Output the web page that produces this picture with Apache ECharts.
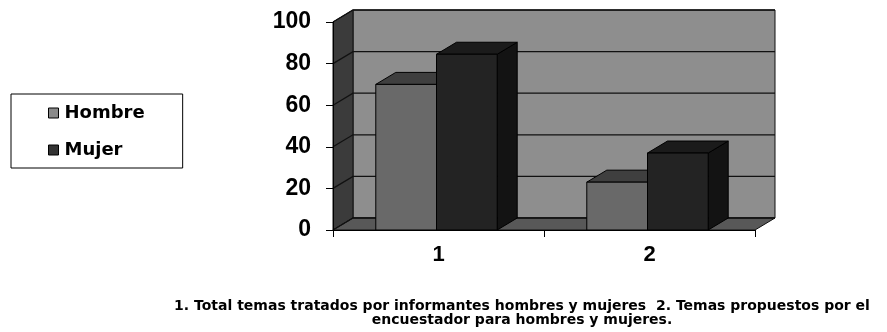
<!DOCTYPE html>
<html>
<head>
<meta charset="utf-8">
<script src="https://cdn.jsdelivr.net/npm/echarts@6/dist/echarts.min.js"></script>
<style>html,body{margin:0;padding:0;background:#fff;}#c{width:887px;height:332px;}</style>
</head>
<body>
<div id="c"></div>
<script>
// ---- data ----
const categories = ['1', '2'];
const seriesNames = ['Hombre', 'Mujer'];
const hombreValues = [70, 23];
const mujerValues = [84.5, 37];
const yTicks = [0, 20, 40, 60, 80, 100];
const caption = '1. Total temas tratados por informantes hombres y mujeres  2. Temas propuestos por el\nencuestador para hombres y mujeres.';

// ---- style ----
const DX = 20, DY = 12;
const BAR_FRAC = 0.2877;
const GROUP_SHIFT = -2;
const colors = {
  back: '#8e8e8e', left: '#3b3b3b', floor: '#585858', line: '#111',
  hombre: { front: '#696969', top: '#3f3f3f', side: '#2e2e2e' },
  mujer: { front: '#232323', top: '#1b1b1b', side: '#131313' }
};

const chart = echarts.init(document.getElementById('c'), null, { renderer: 'canvas' });

function wallsRender(params, api) {
  const cs = params.coordSys;
  const L = cs.x, R = cs.x + cs.width;
  const B = api.coord([0, yTicks[0]])[1];
  const T = api.coord([0, yTicks[yTicks.length - 1]])[1];
  const children = [
    { type: 'polygon', shape: { points: [[L + DX, T - DY], [R + DX, T - DY], [R + DX, B - DY], [L + DX, B - DY]] },
      style: { fill: colors.back, stroke: colors.line, lineWidth: 1 } },
    { type: 'polygon', shape: { points: [[L, B], [L, T], [L + DX, T - DY], [L + DX, B - DY]] },
      style: { fill: colors.left, stroke: colors.line, lineWidth: 1 } },
    { type: 'polygon', shape: { points: [[L, B], [L + DX, B - DY], [R + DX, B - DY], [R, B]] },
      style: { fill: colors.floor, stroke: colors.line, lineWidth: 1 } }
  ];
  yTicks.forEach(function (v) {
    const y = api.coord([0, v])[1];
    children.push({ type: 'polyline', shape: { points: [[L, y], [L + DX, y - DY], [R + DX, y - DY]] },
      style: { fill: null, stroke: colors.line, lineWidth: 1.3 } });
  });
  return { type: 'group', children: children };
}

function barRender(idx, pal) {
  return function (params, api) {
    const cat = api.value(0);
    const val = api.value(1);
    const center = api.coord([cat, 0])[0] + GROUP_SHIFT;
    const base = api.coord([cat, 0])[1];
    const top = api.coord([cat, val])[1];
    const bw = api.size([1, 0])[0] * BAR_FRAC;
    const x0 = idx === 0 ? center - bw : center;
    const x1 = x0 + bw;
    const st = { stroke: '#000', lineWidth: 1, lineJoin: 'round' };
    return {
      type: 'group',
      children: [
        { type: 'polygon', shape: { points: [[x1, top], [x1 + DX, top - DY], [x1 + DX, base - DY], [x1, base]] },
          style: Object.assign({ fill: pal.side }, st) },
        { type: 'polygon', shape: { points: [[x0, top], [x0 + DX, top - DY], [x1 + DX, top - DY], [x1, top]] },
          style: Object.assign({ fill: pal.top }, st) },
        { type: 'rect', shape: { x: x0, y: top, width: bw, height: base - top },
          style: Object.assign({ fill: pal.front }, st) }
      ]
    };
  };
}

const option = {
  backgroundColor: '#fff',
  animation: false,
  grid: { left: 333, right: 132, top: 22, bottom: 102, containLabel: false },
  title: {
    text: caption,
    left: 522, top: 299, padding: 0,
    textAlign: 'center',
    textStyle: { fontFamily: 'DejaVu Sans, sans-serif', fontWeight: 'bold', fontSize: 14, lineHeight: 14, color: '#000' }
  },
  legend: {
    data: [
      { name: seriesNames[0], itemStyle: { color: '#8a8a8a', borderColor: '#000', borderWidth: 1 } },
      { name: seriesNames[1], itemStyle: { color: '#333333', borderColor: '#000', borderWidth: 1 } }
    ],
    orient: 'vertical',
    left: 11, top: 94,
    padding: [10, 38, 9, 37],
    itemGap: 19,
    itemWidth: 10, itemHeight: 10,
    icon: 'rect',
    borderColor: '#000', borderWidth: 1,
    textStyle: { fontFamily: 'DejaVu Sans, sans-serif', fontWeight: 'bold', fontSize: 18, color: '#000', padding: [0, 0, 0, 1] }
  },
  xAxis: {
    type: 'category',
    data: categories,
    z: 10,
    axisLine: { lineStyle: { color: '#000', width: 1 } },
    axisTick: { show: true, length: 7, lineStyle: { color: '#000' } },
    axisLabel: { fontFamily: 'Liberation Sans, Arial, sans-serif', fontWeight: 'bold', fontSize: 22, color: '#000', margin: 14 },
    splitLine: { show: false }
  },
  yAxis: {
    type: 'value',
    min: 0, max: 100, interval: 20,
    z: 10,
    axisLine: { show: true, lineStyle: { color: '#000', width: 1 } },
    axisTick: { show: true, length: 7, lineStyle: { color: '#000' } },
    axisLabel: { fontFamily: 'Liberation Sans, Arial, sans-serif', fontWeight: 'bold', fontSize: 23, color: '#000', margin: 22 },
    splitLine: { show: false }
  },
  series: [
    { name: 'walls', type: 'custom', z: 1, silent: true, renderItem: wallsRender, data: [[0, 0]], clip: false },
    { name: seriesNames[0], type: 'custom', z: 2, renderItem: barRender(0, colors.hombre),
      itemStyle: { color: '#8a8a8a' },
      data: hombreValues.map(function (v, i) { return [i, v]; }), clip: false },
    { name: seriesNames[1], type: 'custom', z: 3, renderItem: barRender(1, colors.mujer),
      itemStyle: { color: '#333333' },
      data: mujerValues.map(function (v, i) { return [i, v]; }), clip: false }
  ]
};
chart.setOption(option);
</script>
</body>
</html>
